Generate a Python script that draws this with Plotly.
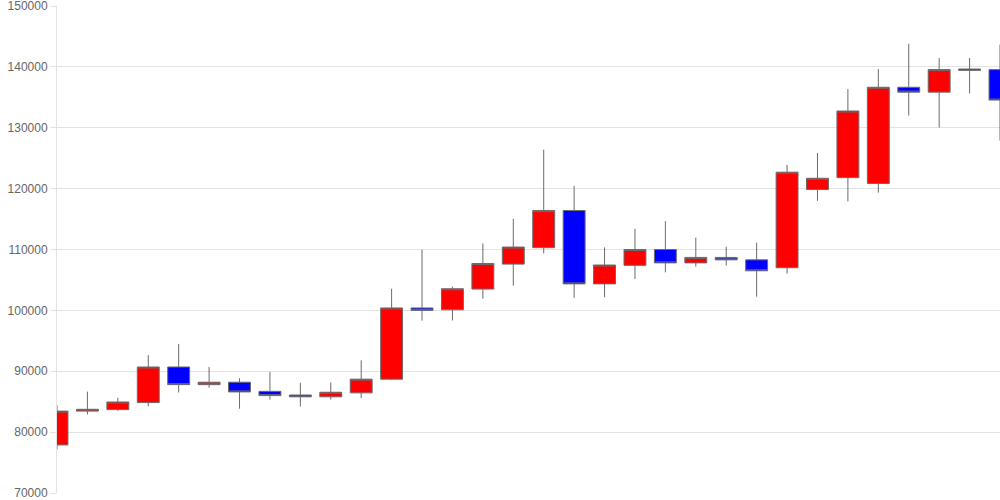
import plotly.graph_objects as go

x_idx = list(range(32))
open_ = [77900, 83450, 83700, 84850, 90700, 87800, 88200, 86700, 86100, 85800,
         86450, 88700, 100400, 100100, 103500, 107600, 110300, 116400, 104350, 107400,
         110000, 107800, 108700, 108300, 107000, 119850, 121800, 120850, 136650, 135850,
         139650, 139550]
high = [84400, 86650, 85650, 92650, 94500, 90700, 88850, 89900, 88100, 88150,
        91800, 103550, 109950, 103900, 111000, 115050, 126400, 120450, 110350, 113400,
        114650, 111950, 110450, 111100, 123900, 125850, 136350, 139650, 143800, 141450,
        141450, 143650]
low = [77150, 82900, 83500, 84250, 86500, 87300, 83850, 85350, 84200, 85350,
       85600, 88600, 98300, 98350, 101900, 104050, 109350, 102050, 102150, 105150,
       106250, 107200, 107350, 102250, 106050, 118000, 117900, 119350, 132000, 130050,
       135650, 127900]
close = [83450, 83750, 84950, 90700, 87800, 88200, 86600, 86000, 85800, 86550,
         88700, 100400, 100000, 103550, 107700, 110400, 116400, 104350, 107450, 110000,
         107800, 108700, 108300, 106500, 122700, 121700, 132750, 136650, 135850, 139550,
         139450, 134550]

fig = go.Figure(go.Candlestick(
    x=x_idx, open=open_, high=high, low=low, close=close,
    increasing=dict(fillcolor="#ff0000", line=dict(color="#6b6b6b", width=1)),
    decreasing=dict(fillcolor="#0000ff", line=dict(color="#6b6b6b", width=1)),
    whiskerwidth=0,
    showlegend=False,
))

fig.update_layout(
    width=1000, height=500,
    margin=dict(l=57, r=0, t=6, b=7),
    paper_bgcolor="white", plot_bgcolor="white",
    boxgap=0.28, boxgroupgap=0,
    xaxis=dict(range=[0, 31], showticklabels=False, showgrid=False, zeroline=False,
               rangeslider=dict(visible=False), showline=False, ticks=""),
    yaxis=dict(range=[70000, 150000], dtick=10000, tick0=70000,
               showgrid=True, gridcolor="#e3e3e3", gridwidth=1,
               showline=True, linecolor="#e3e3e3", linewidth=1,
               ticks="outside", ticklen=6, tickcolor="#e3e3e3",
               tickfont=dict(family="Arial, Liberation Sans, sans-serif", size=12, color="#666666"),
               zeroline=False, tickformat="d", ticklabeloverflow="allow",
               automargin=False),
)

fig.write_html("out.html", config={"displayModeBar": False},
               post_script="document.body.style.margin='0';document.body.style.overflow='hidden';")
